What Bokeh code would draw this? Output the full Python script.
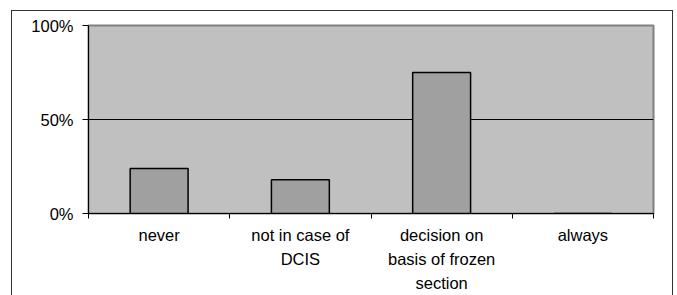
from bokeh.plotting import figure
from bokeh.models import FixedTicker, InlineStyleSheet
from bokeh.embed import file_html
from bokeh.resources import INLINE

categories = ["never", "not in case of\nDCIS", "decision on\nbasis of frozen\nsection", "always"]
values = [24, 18, 75, 0]
y_ticks = [0, 50, 100]
y_tick_labels = ["0%", "50%", "100%"]

xs = [i + 0.5 for i in range(len(categories))]
bounds = list(range(len(categories) + 1))

FONT = "Liberation Sans"
FSIZE = "16.5px"

frame_css = InlineStyleSheet(css="""
:host { position: relative; }
:host::after {
  content: "";
  position: absolute;
  left: 11px; top: 10px; right: 4px; bottom: -4px;
  border: 1px solid #333333;
  pointer-events: none;
}
""")

p = figure(width=677, height=295, output_backend="svg", toolbar_location=None,
           x_range=(0, len(categories)), y_range=(0, 100),
           min_border_left=88, min_border_right=24, min_border_top=25, min_border_bottom=82,
           stylesheets=[frame_css])

p.background_fill_color = "#C0C0C0"
p.border_fill_color = "white"
p.outline_line_color = "#808080"
p.outline_line_width = 2

p.vbar(x=xs, top=values, width=0.41, fill_color="#A0A0A0", line_color="black", line_width=1.5)

p.xgrid.visible = False
p.ygrid.ticker = FixedTicker(ticks=[50])
p.ygrid.grid_line_color = "black"
p.ygrid.grid_line_width = 1

ya = p.yaxis[0]
ya.ticker = FixedTicker(ticks=y_ticks)
ya.major_label_overrides = {t: l for t, l in zip(y_ticks, y_tick_labels)}
ya.major_tick_out = 6
ya.major_tick_in = 0
ya.minor_tick_out = 0
ya.minor_tick_in = 0
ya.axis_line_color = "black"
ya.major_tick_line_color = "black"
ya.major_label_standoff = 9
ya.major_label_text_font = FONT
ya.major_label_text_font_size = FSIZE
ya.major_label_text_color = "black"

xa = p.xaxis[0]
xa.ticker = FixedTicker(ticks=xs, minor_ticks=bounds)
xa.major_label_overrides = {x: c for x, c in zip(xs, categories)}
xa.major_tick_out = 0
xa.major_tick_in = 0
xa.minor_tick_out = 5
xa.minor_tick_in = 0
xa.minor_tick_line_color = "black"
xa.axis_line_color = "black"
xa.major_label_standoff = 7
xa.major_label_text_font = FONT
xa.major_label_text_font_size = FSIZE
xa.major_label_text_color = "black"
xa.major_label_text_line_height = 1.36

open("out.html", "w").write(file_html(p, INLINE))
